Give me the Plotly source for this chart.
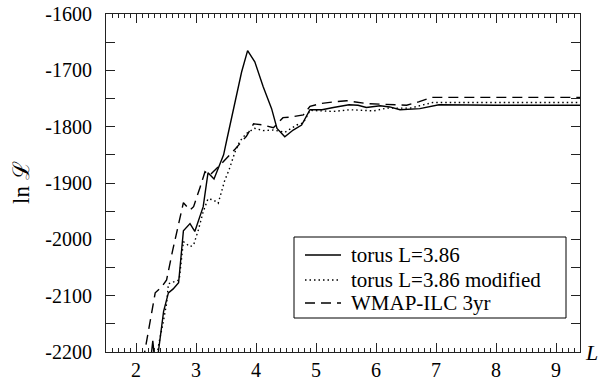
import plotly.graph_objects as go

# torus L=3.86 (solid)
x_torus = [2.20, 2.28, 2.33, 2.37, 2.46, 2.54, 2.62, 2.71, 2.79, 2.90, 2.98, 3.12, 3.20, 3.30,
           3.46, 3.51, 3.65, 3.76, 3.86, 3.98, 4.12, 4.26, 4.35, 4.48, 4.62, 4.76, 4.90,
           5.10, 5.29, 5.55, 5.70, 5.84, 6.07, 6.23, 6.40, 6.73, 7.05, 8.00, 9.40]
y_torus = [-2260, -2180, -2235, -2200, -2128, -2095, -2088, -2077, -1985, -1972, -1986, -1942, -1882, -1893,
           -1850, -1825, -1755, -1703, -1665, -1685, -1729, -1768, -1803, -1818, -1806, -1797, -1770,
           -1770, -1766, -1761, -1762, -1766, -1763, -1765, -1770, -1768, -1761, -1762, -1762]

# torus L=3.86 modified (dotted)
x_mod = [2.30, 2.37, 2.45, 2.51, 2.54, 2.65, 2.72, 2.79, 2.90, 2.96, 3.04, 3.12, 3.20, 3.29,
         3.37, 3.48, 3.55, 3.65, 3.73, 3.84, 3.98, 4.12, 4.29, 4.48, 4.68, 4.79, 4.90,
         5.29, 5.57, 5.96, 6.18, 6.57, 6.95, 8.00, 9.40]
y_mod = [-2260, -2191, -2149, -2114, -2079, -2074, -2072, -2004, -2013, -2010, -1983, -1951, -1928, -1930,
         -1936, -1895, -1877, -1845, -1826, -1812, -1803, -1807, -1806, -1810, -1797, -1793, -1771,
         -1773, -1770, -1772, -1767, -1767, -1757, -1757, -1757]

# WMAP-ILC 3yr (dashed)
x_wmap = [2.12, 2.23, 2.32, 2.43, 2.51, 2.61, 2.79, 2.90, 2.96, 3.07, 3.15, 3.23, 3.43, 3.65,
          3.84, 3.96, 4.12, 4.29, 4.45, 4.57, 4.79, 4.90, 5.07, 5.29, 5.51, 5.84, 6.07,
          6.29, 6.51, 6.71, 6.93, 8.00, 9.40]
y_wmap = [-2215, -2150, -2095, -2084, -2072, -2020, -1935, -1948, -1942, -1907, -1880, -1886, -1865, -1840,
          -1817, -1795, -1797, -1802, -1784, -1783, -1779, -1764, -1759, -1756, -1754, -1759, -1760,
          -1762, -1762, -1756, -1748, -1748, -1748]

names = ["torus L=3.86", "torus L=3.86 modified", "WMAP-ILC 3yr"]
x_ticks = [2, 3, 4, 5, 6, 7, 8, 9]
y_ticks = [-2200, -2100, -2000, -1900, -1800, -1700, -1600]

FONT = "Liberation Serif, DejaVu Serif, serif"
W, H = 598, 383
ML, MR, MT, MB = 106, 18, 14, 31
PW, PH = W - ML - MR, H - MT - MB


def px2paper(px, py):
    return (px - ML) / PW, (H - MB - py) / PH


styles = [dict(color="black", width=1.4),
          dict(color="black", width=1.4, dash="1.5px,3px"),
          dict(color="black", width=1.4, dash="10px,6px")]

fig = go.Figure()
for xs, ys, nm, st in zip([x_torus, x_mod, x_wmap], [y_torus, y_mod, y_wmap], names, styles):
    fig.add_trace(go.Scatter(x=xs, y=ys, mode="lines", name=nm, line=st, showlegend=False))

axis_common = dict(showgrid=False, zeroline=False, showline=True, linecolor="#222", linewidth=1,
                   mirror="ticks", ticks="inside", tickcolor="#222", tickwidth=1, automargin=False,
                   tickfont=dict(family=FONT, size=20, color="black"))

fig.update_xaxes(range=[1.5, 9.4], tickvals=x_ticks, ticktext=[str(v) for v in x_ticks], ticklen=9,
                 minor=dict(dtick=0.1, tick0=0, ticklen=4, ticks="inside", tickcolor="#222"),
                 **axis_common)
fig.update_yaxes(range=[-2200, -1600], tickvals=y_ticks, ticktext=[str(v) for v in y_ticks], ticklen=9,
                 minor=dict(dtick=50, tick0=0, ticklen=9, ticks="inside", tickcolor="#222"),
                 ticklabelstandoff=9, **axis_common)

fig.add_annotation(x=px2paper(21, 0)[0], y=px2paper(0, 183)[1], xref="paper", yref="paper",
                   text="ln ℒ", showarrow=False, xanchor="center", yanchor="middle",
                   textangle=-90, font=dict(family=FONT, size=23, color="black"))
lx, ly = px2paper(591, 353)
fig.add_annotation(x=lx, y=ly, xref="paper", yref="paper", text="<i>L</i>", showarrow=False,
                   font=dict(family=FONT, size=22, color="black"), xanchor="center", yanchor="middle")

# legend (box, sample lines, labels)
bx0, by0 = px2paper(294, 318)
bx1, by1 = px2paper(566, 237)
fig.add_shape(type="rect", xref="paper", yref="paper", x0=bx0, y0=by0, x1=bx1, y1=by1,
              line=dict(color="black", width=1), fillcolor="white", layer="above")
row_y = [255, 280, 303]
for ry, nm, st in zip(row_y, names, styles):
    sx0, sy = px2paper(305, ry)
    sx1, _ = px2paper(341, ry)
    fig.add_shape(type="line", xref="paper", yref="paper", x0=sx0, x1=sx1, y0=sy, y1=sy,
                  line=st, layer="above")
    tx, ty = px2paper(349, ry)
    fig.add_annotation(x=tx, y=ty, xref="paper", yref="paper", text=nm, showarrow=False,
                       xanchor="left", yanchor="middle",
                       font=dict(family=FONT, size=21, color="black"))

fig.update_layout(
    width=W, height=H,
    margin=dict(l=ML, r=MR, t=MT, b=MB),
    paper_bgcolor="white", plot_bgcolor="white",
    showlegend=False,
)

fig.write_html("out.html")
